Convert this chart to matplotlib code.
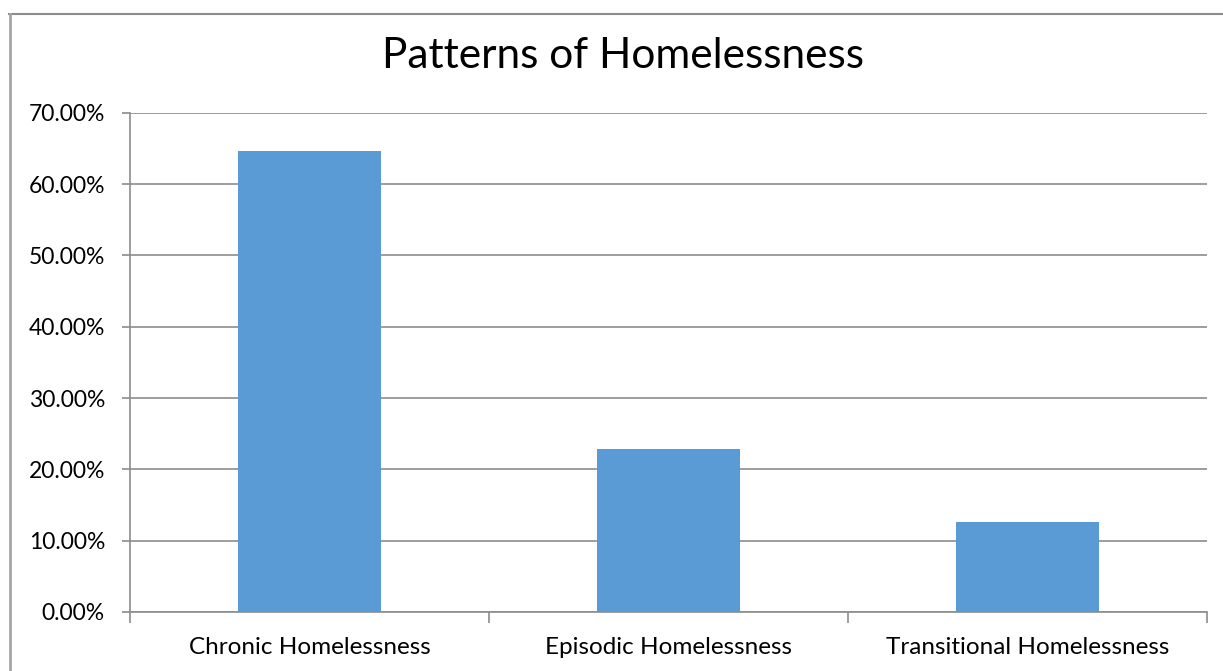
import matplotlib.pyplot as plt
from matplotlib.lines import Line2D
from matplotlib.ticker import FuncFormatter, MultipleLocator

# data
categorias = ['Chronic Homelessness', 'Episodic Homelessness', 'Transitional Homelessness']
valores = [64.6, 22.8, 12.6]
titulo = 'Patterns of Homelessness'

plt.rcParams['font.family'] = ['Lato', 'DejaVu Sans']

W, H = 1223, 671
fig = plt.figure(figsize=(W / 100, H / 100), dpi=100)
ax = fig.add_axes([130 / W, 1 - 612 / H, (1207 - 130) / W, (612 - 112.7) / H])

cinza = '#8c8c8c'
ax.bar(range(len(categorias)), valores, width=0.4, color='#5b9bd5', zorder=3)

ax.set_xlim(-0.5, len(categorias) - 0.5)
ax.set_ylim(0, 70)
ax.yaxis.set_major_locator(MultipleLocator(10))
ax.yaxis.set_major_formatter(FuncFormatter(lambda v, p: f'{v:.2f}%'))
ax.grid(axis='y', color=cinza, linewidth=1.2, zorder=0)

ax.set_xticks(range(len(categorias)))
ax.set_xticklabels(categorias, fontsize=17.5)
ax.set_xticks([i - 0.5 for i in range(len(categorias) + 1)], minor=True)
ax.tick_params(axis='x', which='major', length=0, pad=18)
ax.tick_params(axis='x', which='minor', length=8, color=cinza, width=1.2)
ax.tick_params(axis='y', length=6, color=cinza, width=1.2, labelsize=16.5, pad=12)

for lado in ['top', 'right']:
    ax.spines[lado].set_visible(False)
for lado in ['left', 'bottom']:
    ax.spines[lado].set_color(cinza)
    ax.spines[lado].set_linewidth(1.2)

fig.text(623 / W, 1 - 56 / H, titulo, ha='center', va='center', fontsize=30.5)

# moldura do gráfico
fig.add_artist(Line2D([9 / W, 1], [1 - 13.5 / H, 1 - 13.5 / H], color=cinza, linewidth=1.5))
fig.add_artist(Line2D([9.5 / W, 9.5 / W], [0, 1 - 13.5 / H], color='#a6a6a6', linewidth=2))

fig.savefig('out.png', dpi=100)
